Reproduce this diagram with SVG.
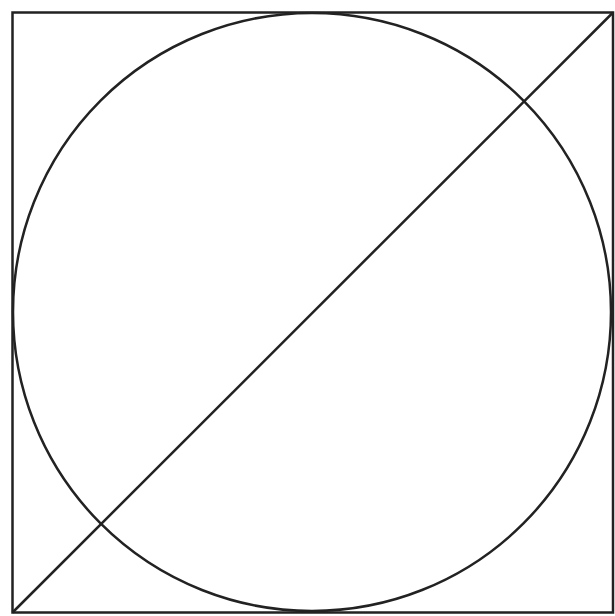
<svg xmlns="http://www.w3.org/2000/svg" width="615" height="616" viewBox="0 0 615 616">
<style>
.s{fill:none;stroke:#222;stroke-width:2.5}
</style>
<rect width="615" height="616" fill="#fff"/>
<g id="square"><rect class="s" x="12.5" y="12.5" width="600.5" height="600"/></g>
<g id="circle"><circle class="s" cx="312" cy="312" r="299"/></g>
<g id="connectors"><line class="s" x1="12.5" y1="612.5" x2="613" y2="12.5"/></g>
</svg>
